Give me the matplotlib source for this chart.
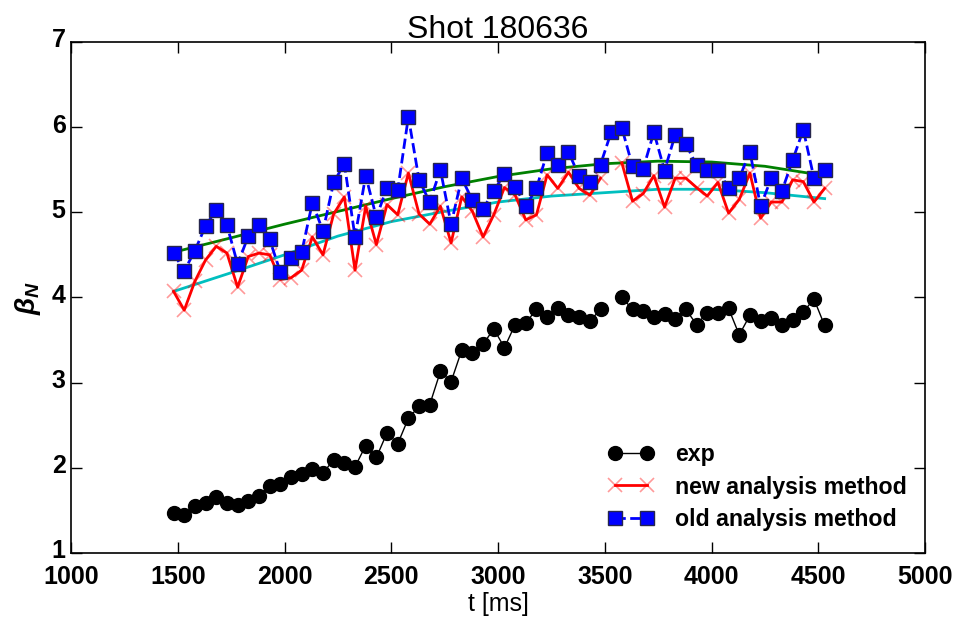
import matplotlib

matplotlib.use("Agg")
import matplotlib.pyplot as plt
import matplotlib.transforms as mtransforms
import numpy as np

plt.rcParams["font.family"] = ["Liberation Sans", "DejaVu Sans"]
plt.rcParams["mathtext.fontset"] = "custom"
plt.rcParams["mathtext.it"] = "Liberation Sans:bold:italic"
plt.rcParams["mathtext.rm"] = "Liberation Sans:bold"

nan = np.nan

# time base [ms]
t = [
    1480, 1530, 1580, 1630, 1680, 1730, 1780, 1830, 1880, 1930, 1980,
    2030, 2080, 2130, 2180, 2230, 2280, 2330, 2380, 2430, 2480, 2530,
    2580, 2630, 2680, 2730, 2780, 2830, 2880, 2930, 2980, 3030, 3080,
    3130, 3180, 3230, 3280, 3330, 3380, 3430, 3480, 3530, 3580, 3630,
    3680, 3730, 3780, 3830, 3880, 3930, 3980, 4030, 4080, 4130, 4180,
    4230, 4280, 4330, 4380, 4430, 4480, 4530,
]

beta_exp = [
    1.47, 1.45, 1.55, 1.58, 1.66, 1.58, 1.56, 1.61, 1.67, 1.79, 1.81,
    1.89, 1.92, 1.99, 1.94, 2.09, 2.05, 2.01, 2.26, 2.12, 2.41, 2.28,
    2.58, 2.72, 2.74, 3.13, 3.01, 3.38, 3.35, 3.45, 3.63, 3.41, 3.68,
    3.70, 3.86, 3.77, 3.87, 3.79, 3.77, 3.72, 3.86, nan, 4.00, 3.86,
    3.84, 3.77, 3.81, 3.75, 3.86, 3.68, 3.82, 3.82, 3.87, 3.56, 3.79,
    3.72, 3.76, 3.67, 3.74, 3.83, 3.98, 3.67,
]

beta_new = [
    4.07, 3.85, 4.19, 4.44, 4.60, 4.52, 4.12, 4.48, 4.52, 4.50, 4.21,
    4.23, 4.32, 4.71, 4.50, 4.98, 5.18, 4.32, 5.07, 4.62, 5.09, 4.97,
    5.46, 4.98, 4.86, 5.07, 4.64, 5.18, 5.01, 4.71, 4.97, 5.29, 5.20,
    4.91, 4.97, 5.44, 5.28, 5.47, 5.28, 5.20, 5.40, nan, 5.58, 5.13,
    5.22, 5.43, 5.06, 5.40, 5.40, 5.29, 5.19, 5.35, 4.99, 5.15, 5.46,
    4.93, 5.12, 5.12, 5.38, 5.36, 5.12, 5.28,
]

beta_old = [
    4.52, 4.31, 4.55, 4.84, 5.03, 4.85, 4.39, 4.72, 4.85, 4.68, 4.30,
    4.46, 4.53, 5.11, 4.78, 5.35, 5.57, 4.71, 5.43, 4.94, 5.29, 5.26,
    6.12, 5.38, 5.12, 5.50, 4.86, 5.40, 5.14, 5.04, 5.25, 5.45, 5.30,
    5.07, 5.28, 5.70, 5.56, 5.71, 5.42, 5.36, 5.56, 5.94, 5.99, 5.54,
    5.51, 5.94, 5.49, 5.91, 5.80, 5.55, 5.50, 5.50, 5.28, 5.40, 5.71,
    5.07, 5.40, 5.25, 5.61, 5.97, 5.40, 5.50,
]

# smooth trend curves
t_fit = [1480, 1750, 2000, 2250, 2500, 2750, 3000, 3250, 3500, 3750, 4000, 4250, 4530]
fit_old = [4.53, 4.70, 4.86, 5.01, 5.16, 5.30, 5.42, 5.51, 5.57, 5.60, 5.59, 5.54, 5.43]
fit_new = [4.07, 4.29, 4.50, 4.72, 4.89, 5.01, 5.12, 5.19, 5.23, 5.27, 5.27, 5.23, 5.16]

fig = plt.figure(figsize=(9.61, 6.17), dpi=100, facecolor="white")
ax = fig.add_axes([0.074, 0.104, 0.8885, 0.828])

ax.plot(t_fit, fit_old, color=(0, 0.5, 0), lw=2)
ax.plot(t_fit, fit_new, color=(0, 0.75, 0.75), lw=2)

ax.plot(t, beta_exp, "-o", color="black", lw=1, ms=10, label="exp")
ax.plot(t, beta_new, "-x", color="red", lw=2, ms=10, mew=1.2,
        mec=(1, 0, 0, 0.4), label="new analysis method")
ax.plot(t, beta_old, "--s", color="blue", lw=2, ms=10, mec=(0.15, 0.15, 0.3),
        mew=1, label="old analysis method")

ax.set_xlim(1000, 5000)
ax.set_ylim(1, 7)
ax.set_xticks([1000, 1500, 2000, 2500, 3000, 3500, 4000, 4500, 5000])
ax.set_yticks([1, 2, 3, 4, 5, 6, 7])
ax.tick_params(direction="in", top=True, right=True, length=8, width=1,
               labelsize=18)
ax.tick_params(axis="x", pad=9)
ax.tick_params(axis="y", pad=4)
for lab in ax.get_xticklabels() + ax.get_yticklabels():
    lab.set_fontweight("bold")
# y tick labels sit a touch above their ticks in the original
shift_up = mtransforms.ScaledTranslation(0, 4 / 100, fig.dpi_scale_trans)
for lab in ax.get_yticklabels():
    lab.set_transform(lab.get_transform() + shift_up)
for sp in ax.spines.values():
    sp.set_linewidth(1.2)

ax.set_title("Shot 180636", fontsize=23, pad=3)
ax.set_xlabel("t [ms]", fontsize=18, labelpad=2)
ax.set_ylabel(r"$\beta_N$", fontsize=20, labelpad=6)

ax.legend(loc="lower right", bbox_to_anchor=(0.99, 0.025), frameon=False,
          numpoints=2, handlelength=2.0, handletextpad=0.9,
          labelspacing=0.4, borderaxespad=0,
          prop={"weight": "bold", "size": 16.7})

fig.savefig("out.png", dpi=100, facecolor="white")
